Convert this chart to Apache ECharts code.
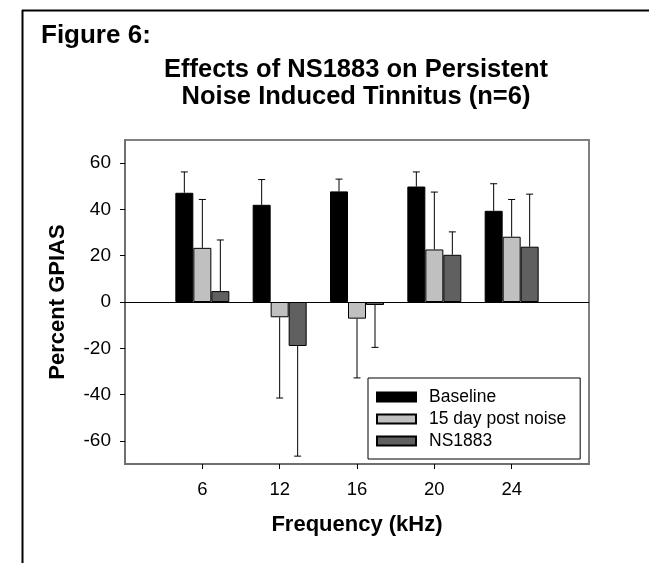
<!DOCTYPE html>
<html>
<head>
<meta charset="utf-8">
<script src="https://cdn.jsdelivr.net/npm/echarts@6/dist/echarts.min.js"></script>
<style>
  html, body { margin: 0; padding: 0; background: #fff; }
  #chart { width: 649px; height: 563px; }
</style>
</head>
<body>
<div id="chart"></div>
<script>
// frequencies (kHz); blank slots at both ends so ticks sit on band edges
var frequencies = ['', '6', '12', '16', '20', '24', ''];

var baseline = ['-', 47.2, 42.0, 47.8, 49.9, 39.4, '-'];
var postNoise = ['-', 23.4, -6.6, -7.2, 22.7, 28.2, '-'];
var ns1883 = ['-', 4.7, -19.0, -1.3, 20.4, 23.9, '-'];

// one-sided error bars (drawn away from zero)
var baselineErr = [0, 9.0, 10.9, 5.3, 6.3, 11.7, 0];
var postNoiseErr = [0, 20.9, 34.9, 25.6, 24.8, 16.1, 0];
var ns1883Err = [0, 22.1, 47.6, 18.3, 9.9, 22.7, 0];

var yTicks = [-60, -40, -20, 0, 20, 40, 60];

var FONT = "'Liberation Sans', Arial, sans-serif";
var BAR_W = 18;

function errData(means, errs) {
  var out = [];
  for (var i = 0; i < means.length; i++) {
    if (means[i] === '-') continue;
    out.push([i, means[i], errs[i]]);
  }
  return out;
}

function errSeries(name, means, errs, offset) {
  return {
    name: name,
    type: 'custom',
    z: 5,
    silent: true,
    data: errData(means, errs),
    renderItem: function (params, api) {
      var xi = api.value(0);
      var m = api.value(1);
      var e = api.value(2);
      var end = m >= 0 ? m + e : m - e;
      var p0 = api.coord([xi, m]);
      var p1 = api.coord([xi, end]);
      var x = p0[0] + offset;
      var style = { stroke: '#000', lineWidth: 1 };
      return {
        type: 'group',
        children: [
          { type: 'line', shape: { x1: x, y1: p0[1], x2: x, y2: p1[1] }, style: style },
          { type: 'line', shape: { x1: x - 3.5, y1: p1[1], x2: x + 3.5, y2: p1[1] }, style: style }
        ]
      };
    }
  };
}

var chart = echarts.init(document.getElementById('chart'));

var option = {
  backgroundColor: '#fff',
  animation: false,
  textStyle: { fontFamily: FONT },
  title: [
    {
      text: 'Figure 6:',
      left: 41,
      top: 23,
      padding: 0,
      textStyle: { fontFamily: FONT, fontSize: 26, fontWeight: 'bold', color: '#000' }
    },
    {
      text: 'Effects of NS1883 on Persistent\nNoise Induced Tinnitus (n=6)',
      left: 356,
      top: 57,
      padding: 0,
      textAlign: 'center',
      textStyle: { fontFamily: FONT, fontSize: 25.5, fontWeight: 'bold', color: '#000', lineHeight: 26.5, align: 'center' }
    }
  ],
  graphic: [
    { type: 'line', shape: { x1: 22, y1: 10.5, x2: 649, y2: 10.5 }, style: { stroke: '#000', lineWidth: 2 } },
    { type: 'line', shape: { x1: 22.5, y1: 10, x2: 22.5, y2: 563 }, style: { stroke: '#000', lineWidth: 2 } }
  ],
  legend: {
    orient: 'vertical',
    left: 368,
    top: 378,
    padding: [10, 14, 9, 8],
    icon: 'rect',
    itemWidth: 39,
    itemHeight: 9,
    itemGap: 4,
    backgroundColor: '#fff',
    borderColor: '#000',
    borderWidth: 1,
    data: ['Baseline', '15 day post noise', 'NS1883'],
    textStyle: { fontFamily: FONT, fontSize: 17.5, color: '#000', padding: [0, 0, 0, 8] }
  },
  grid: {
    left: 125,
    right: 60,
    top: 140,
    bottom: 99,
    show: true,
    borderColor: '#808080',
    borderWidth: 2
  },
  xAxis: {
    type: 'category',
    data: frequencies,
    boundaryGap: false,
    name: 'Frequency (kHz)',
    nameLocation: 'middle',
    nameGap: 50,
    nameTextStyle: { fontFamily: FONT, fontSize: 22, fontWeight: 'bold', color: '#000' },
    axisLine: { onZero: false, lineStyle: { color: '#707070', width: 2 } },
    axisTick: {
      length: 5,
      lineStyle: { color: '#000' },
      interval: function (idx) { return idx > 0 && idx < frequencies.length - 1; }
    },
    axisLabel: { interval: 0, margin: 16, fontFamily: FONT, fontSize: 18.5, color: '#000' },
    splitLine: { show: false }
  },
  yAxis: {
    type: 'value',
    min: -70,
    max: 70,
    interval: 10,
    name: 'Percent GPIAS',
    nameLocation: 'middle',
    nameGap: 56,
    nameTextStyle: { fontFamily: FONT, fontSize: 22, fontWeight: 'bold', color: '#000' },
    axisLine: { show: true, lineStyle: { color: '#707070', width: 2 } },
    axisTick: { show: true, length: 5, customValues: yTicks, lineStyle: { color: '#000' } },
    axisLabel: { margin: 14, customValues: yTicks, fontFamily: FONT, fontSize: 19, color: '#000' },
    splitLine: { show: false }
  },
  series: [
    {
      name: 'Baseline',
      type: 'bar',
      data: baseline,
      barWidth: BAR_W,
      barGap: '0%',
      itemStyle: { color: '#000000', borderColor: '#000', borderWidth: 1 },
      markLine: {
        silent: true,
        symbol: ['none', 'none'],
        label: { show: false },
        lineStyle: { color: '#000', width: 1, type: 'solid' },
        data: [{ yAxis: 0 }]
      }
    },
    {
      name: '15 day post noise',
      type: 'bar',
      data: postNoise,
      barWidth: BAR_W,
      barGap: '0%',
      itemStyle: { color: '#c0c0c0', borderColor: '#000', borderWidth: 1 }
    },
    {
      name: 'NS1883',
      type: 'bar',
      data: ns1883,
      barWidth: BAR_W,
      barGap: '0%',
      itemStyle: { color: '#606060', borderColor: '#000', borderWidth: 1 }
    },
    errSeries('err-baseline', baseline, baselineErr, -BAR_W),
    errSeries('err-post', postNoise, postNoiseErr, 0),
    errSeries('err-ns', ns1883, ns1883Err, BAR_W)
  ]
};

chart.setOption(option);
</script>
</body>
</html>
